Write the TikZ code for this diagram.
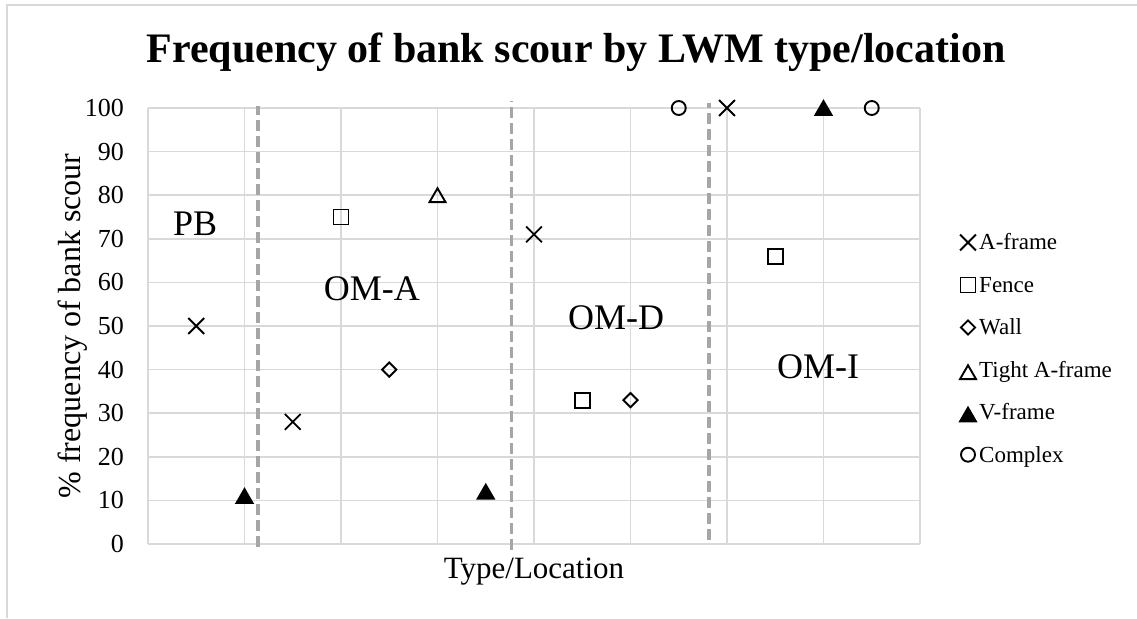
\documentclass[tikz,border=0pt]{standalone}
\usepackage{fontspec}
\setmainfont{Liberation Serif}
\usetikzlibrary{shapes.misc,shapes.geometric}
\definecolor{gridc}{HTML}{D9D9D9}
\definecolor{dashc}{HTML}{A6A6A6}
\begin{document}
\begin{tikzpicture}[x=1pt,y=1pt,
  mk/.style={draw=black, line width=1.9pt, inner sep=0pt},
  mkx/.style={cross out, draw=black, line width=1.8pt, inner sep=0pt, minimum size=14pt},
  mksq/.style={rectangle, mk, minimum size=15pt},
  mkdia/.style={diamond, mk, minimum size=15pt},
  mktri/.style={regular polygon, regular polygon sides=3, mk, minimum size=18.5pt, yshift=-2.3pt},
  mktrif/.style={mktri, fill=black},
  mkcirc/.style={circle, mk, minimum size=14pt},
  gridline/.style={draw=gridc, line width=1.6pt},
  divline/.style={draw=dashc, line width=3.6pt, dash pattern=on 11pt off 5pt},
  ticklab/.style={anchor=east, inner sep=0pt, xshift=-24pt, font=\fontsize{26}{30}\selectfont},
  regionlab/.style={inner sep=0pt, font=\fontsize{36}{40}\selectfont},
  legtext/.style={anchor=base west, inner sep=0pt, font=\fontsize{23}{27}\selectfont},
  axtitle/.style={anchor=base, inner sep=0pt, font=\fontsize{31}{35}\selectfont}]
\useasboundingbox (0,0) rectangle (1137,618);
% chart border (cropped)
\draw[gridc, line width=1.5pt] (7,0) -- (7,613) -- (1137,613);
% title
\node[anchor=base, inner sep=0pt, font=\bfseries\fontsize{42}{46}\selectfont] (title) at (576,555) {Frequency of bank scour by LWM type/location};
% plot
\begin{scope}[shift={(148,74)}, x=96.5pt, y=4.36pt]
  \foreach \k in {0,10,...,100} {
    \draw[gridline] (0,\k) -- (8,\k);
    \node[ticklab] (tick\k) at (0,\k) {\k};
  }
  \foreach \i in {0,...,8} {
    \draw[gridline] (\i,0) -- (\i,100);
  }
  % dividers
  \coordinate (d1a) at (1.14,-0.7);  \coordinate (d1b) at (1.14,100.4);
  \coordinate (d2a) at (3.767,-1.4); \coordinate (d2b) at (3.767,101.6);
  \coordinate (d3a) at (5.813,0.9);  \coordinate (d3b) at (5.813,101.1);
  \draw[divline] (d1a) -- (d1b);
  \draw[divline] (d2a) -- (d2b);
  \draw[divline] (d3a) -- (d3b);
  % region labels
  \node[regionlab] (pb) at (0.488,73.4) {PB};
  \node[regionlab] (oma) at (2.32,58.6) {OM-A};
  \node[regionlab] (omd) at (4.85,51.9) {OM-D};
  \node[regionlab] (omi) at (6.943,40.6) {OM-I};
  % data: A-frame
  \node[mkx] (a1) at (0.5,50) {};
  \node[mkx] (a2) at (1.5,28) {};
  \node[mkx] (a3) at (4,71) {};
  \node[mkx] (a4) at (6,100) {};
  % Fence
  \node[mksq] (f1) at (2,75) {};
  \node[mksq] (f2) at (4.5,33) {};
  \node[mksq] (f3) at (6.5,66) {};
  % Wall
  \node[mkdia] (w1) at (2.5,40) {};
  \node[mkdia] (w2) at (5,33) {};
  % Tight A-frame
  \node[mktri] (t1) at (3,80) {};
  % V-frame
  \node[mktrif] (v1) at (1,11) {};
  \node[mktrif] (v2) at (3.5,12) {};
  \node[mktrif] (v3) at (7,100) {};
  % Complex
  \node[mkcirc] (c1) at (5.5,100) {};
  \node[mkcirc] (c2) at (7.5,100) {};
\end{scope}
% axis titles
\node[axtitle, rotate=90, font=\fontsize{32}{36}\selectfont] (ytitle) at (80,292) {\% frequency of bank scour};
\node[axtitle] (xtitle) at (534,39) {Type/Location};
% legend
\node[mkx] (lx) at (968,375.5) {};
\node[legtext] (lxt) at (979,368) {A-frame};
\node[mksq] (lf) at (968,333) {};
\node[legtext] (lft) at (979,325.5) {Fence};
\node[mkdia] (lw) at (968,290.5) {};
\node[legtext] (lwt) at (979,283) {Wall};
\node[mktri, yshift=0pt] (lt) at (968,245.8) {};
\node[legtext] (ltt) at (979,240.6) {Tight A-frame};
\node[mktrif, yshift=0pt] (lv) at (968,203.4) {};
\node[legtext] (lvt) at (979,198.2) {V-frame};
\node[mkcirc] (lc) at (968,163.3) {};
\node[legtext] (lct) at (979,155.8) {Complex};
\end{tikzpicture}
\end{document}
